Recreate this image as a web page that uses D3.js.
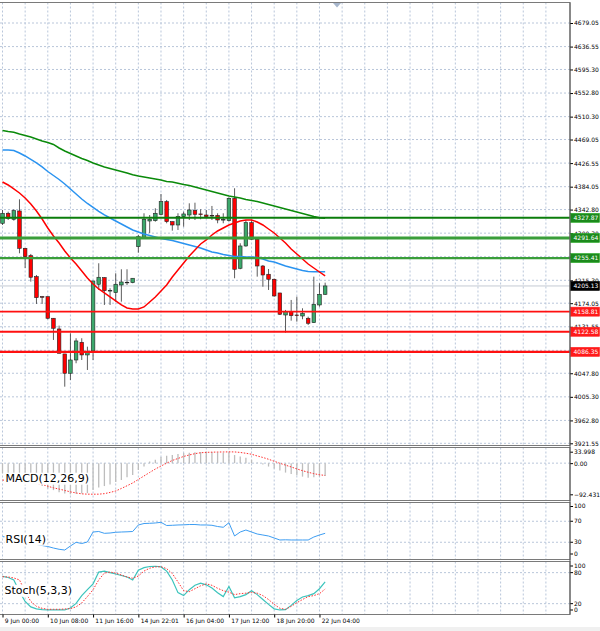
<!DOCTYPE html>
<html>
<head>
<meta charset="utf-8">
<script src="https://cdn.jsdelivr.net/npm/d3@7"></script>
<style>
body { margin: 0; background: #fff; }
.axis text { font-family: "DejaVu Sans", sans-serif; font-size: 6px; fill: #000; }
.axis line { stroke: #000; }
.panel-label { font-family: "DejaVu Sans", sans-serif; font-size: 11px; fill: #000; }
</style>
</head>
<body>
<div class="chart"></div>
<script>
// H4 candles, 9 Jun 00:00 -> 22 Jun 04:00
var candleOpen = [4318.1, 4336.1, 4325.3, 4340.3, 4273.0, 4259.7, 4221.9, 4185.8, 4185.8, 4146.9,
    4127.6, 4082.6, 4047.8, 4071.7, 4103.6, 4080.8, 4088.0, 4208.2, 4220.1, 4196.1,
    4193.0, 4206.9, 4211.1, 4211.1, 4275.9, 4292.9, 4322.2, 4322.8, 4334.3, 4357.0,
    4321.0, 4315.0, 4330.0, 4333.0, 4341.2, 4334.9, 4333.0, 4332.2, 4332.2, 4324.0,
    4322.8, 4363.1, 4237.0, 4277.2, 4319.2, 4289.3, 4241.1, 4226.2, 4217.2, 4192.5,
    4152.8, 4158.8, 4152.8, 4151.0, 4146.9, 4139.0, 4170.9, 4190.1];
var candleHigh = [4342.1, 4339.0, 4343.3, 4361.3, 4273.6, 4262.8, 4224.9, 4187.1, 4185.8, 4147.4,
    4133.6, 4082.6, 4119.9, 4110.9, 4110.9, 4095.7, 4214.1, 4246.0, 4220.8, 4201.0,
    4228.0, 4235.2, 4235.2, 4219.0, 4297.0, 4336.1, 4333.0, 4345.1, 4370.9, 4360.1,
    4321.0, 4336.1, 4339.0, 4354.1, 4355.2, 4343.3, 4342.1, 4349.3, 4336.1, 4336.1,
    4365.0, 4381.2, 4282.1, 4324.0, 4324.0, 4291.1, 4242.9, 4235.7, 4218.3, 4192.5,
    4161.9, 4179.9, 4185.8, 4164.9, 4149.8, 4221.9, 4210.0, 4211.1];
var candleLow = [4315.0, 4324.0, 4322.8, 4264.0, 4237.5, 4212.9, 4172.7, 4172.7, 4145.1, 4107.8,
    4083.8, 4023.6, 4035.7, 4065.8, 4071.7, 4053.7, 4071.7, 4197.9, 4170.9, 4170.9,
    4176.8, 4176.8, 4206.9, 4210.0, 4265.1, 4291.6, 4300.6, 4321.0, 4333.0, 4318.1,
    4304.8, 4306.0, 4312.0, 4324.0, 4324.0, 4325.3, 4327.1, 4324.0, 4318.1, 4318.1,
    4321.0, 4219.0, 4235.2, 4275.9, 4288.0, 4221.9, 4203.8, 4197.9, 4185.8, 4152.8,
    4120.9, 4142.6, 4140.8, 4145.1, 4134.8, 4138.4, 4167.8, 4188.9];
var candleClose = [4336.1, 4327.1, 4340.8, 4273.0, 4257.9, 4220.8, 4184.0, 4184.7, 4146.9, 4128.9,
    4083.8, 4047.8, 4071.7, 4106.0, 4080.8, 4086.7, 4214.1, 4220.8, 4196.6, 4197.0,
    4208.2, 4212.3, 4211.8, 4219.0, 4293.9, 4325.3, 4325.3, 4336.1, 4357.0, 4321.0,
    4315.0, 4330.0, 4334.9, 4342.1, 4334.3, 4334.0, 4330.0, 4331.2, 4324.0, 4324.9,
    4363.1, 4235.2, 4277.2, 4319.2, 4289.3, 4241.1, 4224.9, 4217.2, 4187.1, 4154.1,
    4158.8, 4151.6, 4152.3, 4155.9, 4137.9, 4172.1, 4190.1, 4205.13];

// moving averages
var maFast = [4392.5, 4387.1, 4379.9, 4372.7, 4363.7, 4352.9, 4340.3, 4325.8, 4309.6, 4295.2,
    4282.6, 4268.2, 4255.6, 4244.7, 4232.1, 4219.5, 4208.7, 4199.7, 4192.5, 4185.3,
    4178.1, 4170.9, 4165.5, 4163.6, 4163.6, 4167.3, 4176.3, 4185.3, 4196.1, 4206.9,
    4221.3, 4233.9, 4246.5, 4259.2, 4270.0, 4280.8, 4288.0, 4297.0, 4304.2, 4309.6,
    4315.0, 4318.6, 4322.2, 4324.0, 4324.0, 4320.4, 4315.0, 4307.8, 4300.6, 4291.6,
    4282.6, 4271.8, 4262.8, 4253.8, 4244.7, 4237.5, 4230.3, 4223.1];
var maMid = [4450.2, 4450.2, 4449.3, 4444.8, 4439.4, 4433.1, 4426.8, 4419.6, 4411.4, 4404.2,
    4397.0, 4388.9, 4379.9, 4370.9, 4361.9, 4353.8, 4346.6, 4339.4, 4333.1, 4327.6,
    4322.2, 4316.8, 4311.4, 4306.0, 4302.4, 4298.8, 4296.1, 4293.4, 4290.7, 4288.9,
    4287.1, 4284.4, 4281.7, 4279.0, 4276.3, 4273.6, 4270.0, 4266.4, 4264.6, 4261.9,
    4260.1, 4258.3, 4258.3, 4257.4, 4257.4, 4256.5, 4253.8, 4250.2, 4248.4, 4244.7,
    4241.1, 4238.4, 4235.7, 4233.0, 4231.2, 4230.9, 4230.9, 4230.9];
var maSlow = [4485.3, 4483.5, 4482.1, 4479.0, 4476.3, 4473.6, 4470.0, 4466.4, 4463.7, 4460.1,
    4453.8, 4448.4, 4443.9, 4439.4, 4434.9, 4431.3, 4426.8, 4423.2, 4419.6, 4416.9,
    4414.1, 4411.4, 4408.7, 4405.7, 4403.3, 4401.5, 4399.7, 4397.9, 4396.1, 4393.4,
    4392.5, 4390.2, 4388.0, 4386.2, 4383.5, 4380.8, 4378.1, 4375.4, 4372.7, 4370.0,
    4367.3, 4365.5, 4363.7, 4361.0, 4359.2, 4357.4, 4354.7, 4352.0, 4349.3, 4346.6,
    4343.9, 4341.2, 4338.5, 4335.8, 4333.1, 4330.4, 4328.2, 4327.1];

// indicators
var macdMain = [-30, -32, -34, -40, -48, -55, -62, -68, -75, -80,
    -86, -90, -92.431, -91, -90, -89, -80, -72, -68, -63,
    -56, -50, -42, -35, -20, -10, 5, 10, 18, 22,
    24, 27, 30, 31, 32, 33, 33.998, 33, 32, 31,
    32, 24, 20, 16, 10, 2, -4, -10, -16, -22,
    -28, -32, -36, -40, -43, -42, -40, -38];
var macdSignal = [-49.9, -52.2, -54.3, -56.4, -57.9, -59.3, -60.5, -63.2, -68.5, -73.3,
    -76.9, -81.0, -85.2, -88.4, -91.1, -92.0, -92.2, -92.0, -90.5, -86.9,
    -82.5, -75.1, -67.1, -58.8, -48.4, -38.0, -27.6, -17.5, -8.6, 0,
    8.0, 13.9, 19.9, 24.3, 28.2, 30.9, 32.0, 32.6, 33.0, 33.2,
    33.5, 33.3, 31.8, 29.4, 26.4, 21.4, 16.9, 11.6, 5.6, -0.3,
    -5.9, -11.3, -17.2, -22.3, -27.0, -31.2, -34.4, -36.5];
var rsiValues = [40.6, 40, 39, 36.2, 31.4, 28.2, 25.7, 23.8, 21.9, 19,
    16.6, 15.2, 22.9, 29.9, 27.6, 30.5, 49.5, 50.5, 47, 47.6,
    49, 49.5, 49.9, 50.5, 62.9, 65.7, 66.1, 66.7, 68, 61.9,
    62.3, 62.9, 63.2, 63.8, 63.8, 62.9, 62.9, 62.3, 60, 58.5,
    67.2, 41.9, 49.5, 53.3, 49.5, 45.7, 43.8, 41.9, 38.1, 34.3,
    34.7, 34.3, 34.3, 34.3, 34.3, 40, 43.8, 47];
var stochMain = [72.9, 70.6, 65.9, 43.2, 24.2, 13.8, 10, 8.5, 7.8, 7.8,
    7.8, 7.8, 11.6, 20.5, 35.6, 47, 58.3, 81.1, 83, 80.1,
    77.3, 74.4, 71.6, 65.9, 84.8, 89.6, 91.9, 92.4, 91.1, 83,
    65.9, 41.3, 35.6, 47, 55.5, 59.7, 56.4, 50.2, 41.3, 33.7,
    53.2, 31.3, 33.7, 37.5, 45.1, 37.5, 28, 18.6, 10, 7.8,
    8.5, 16.7, 26.1, 32.8, 35.6, 39.4, 48.9, 62.1];
var stochSignal = [72.2, 71.6, 69.7, 65.9, 43.2, 24.2, 14.8, 11, 9.1, 9.1,
    9.1, 9.7, 10.4, 13.8, 21.4, 33.7, 47, 65.9, 79.2, 81.1,
    79.2, 75.4, 71.6, 69.1, 73.5, 83, 88.6, 91.1, 91.5, 87.7,
    78.2, 62.1, 45.1, 43.2, 48.9, 54.5, 58.3, 55.5, 49.8, 45.1,
    42.2, 37.5, 39.4, 40.3, 41.9, 40.3, 35.6, 28, 18.6, 11,
    9.1, 14.8, 21.8, 28, 33.7, 35.6, 39.4, 48.3];

var priceTicks = [4679.05, 4636.55, 4595.30, 4552.80, 4510.30, 4469.05, 4426.55, 4384.05, 4342.80, 4300.30,
    4257.80, 4215.30, 4174.05, 4131.55, 4089.05, 4047.80, 4005.30, 3962.80, 3921.55];
var dateLabels = ["9 Jun 00:00", "10 Jun 08:00", "11 Jun 16:00", "14 Jun 22:01",
    "16 Jun 04:00", "17 Jun 12:00", "18 Jun 20:00", "22 Jun 04:00"];
var resistanceLevels = [4327.87, 4291.64, 4255.41];
var supportLevels = [4158.81, 4122.58, 4086.35];
var rsiLevels = [100, 70, 30, 0];
var stochLevels = [100, 80, 20, 0];

// layout
var plotRight = 570;
var panels = {
    main: {top: 2.5, bottom: 445.5},
    macd: {top: 447.5, bottom: 500.5},
    rsi: {top: 502.5, bottom: 559.5},
    stoch: {top: 561.5, bottom: 614.5}
};
var gridColor = "#b9c6da";

var svg = d3.select(".chart").append("svg").attr("width", 600).attr("height", 631);

var xScale = d3.scaleLinear().domain([0, 96]).range([2.5, 545.9]);
var yMain = d3.scaleLinear().domain([3921.55, 4679.05]).range([443.3, 23]);
var macdMax = d3.max(macdMain.concat(macdSignal));
var macdMin = d3.min(macdMain.concat(macdSignal));
var yMacd = d3.scaleLinear().domain([macdMin, macdMax]).range([494.3, 451.7]);
var yRsi = d3.scaleLinear().domain([0, 100]).range([558, 505.5]);
var yStoch = d3.scaleLinear().domain([0, 100]).range([614, 562.3]);

svg.append("rect").attr("x", 0).attr("y", 627).attr("width", 600).attr("height", 4).attr("fill", "#f0f0f0");

// vertical grid in every panel
var gridBars = d3.range(0, 97, 4);
Object.keys(panels).forEach(function(k) {
    var p = panels[k];
    svg.append("g").selectAll("line").data(gridBars).enter().append("line")
        .attr("x1", function(d) { return xScale(d); })
        .attr("x2", function(d) { return xScale(d); })
        .attr("y1", p.top).attr("y2", p.bottom)
        .attr("stroke", gridColor).attr("stroke-dasharray", "2,2");
});

// horizontal grid, main
svg.append("g").selectAll("line").data(priceTicks).enter().append("line")
    .attr("x1", 0).attr("x2", plotRight)
    .attr("y1", function(d) { return yMain(d); })
    .attr("y2", function(d) { return yMain(d); })
    .attr("stroke", gridColor).attr("stroke-dasharray", "2,2");

// level lines in sub panels
function dottedLevels(values, scale) {
    svg.append("g").selectAll("line").data(values).enter().append("line")
        .attr("x1", 0).attr("x2", plotRight)
        .attr("y1", function(d) { return scale(d); })
        .attr("y2", function(d) { return scale(d); })
        .attr("stroke", gridColor).attr("stroke-dasharray", "2,2");
}
dottedLevels([0], yMacd);
dottedLevels([70, 30], yRsi);
dottedLevels([80, 20], yStoch);

var lastClose = candleClose[candleClose.length - 1];
svg.append("line").attr("x1", 0).attr("x2", plotRight)
    .attr("y1", yMain(lastClose)).attr("y2", yMain(lastClose))
    .attr("stroke", "#c4cad4").attr("stroke-width", 1);

// candles
var candles = candleOpen.map(function(o, i) {
    return {i: i, o: o, h: candleHigh[i], l: candleLow[i], c: candleClose[i]};
});
var candleG = svg.append("g");
candleG.selectAll("line").data(candles).enter().append("line")
    .attr("x1", function(d) { return xScale(d.i); })
    .attr("x2", function(d) { return xScale(d.i); })
    .attr("y1", function(d) { return yMain(d.h); })
    .attr("y2", function(d) { return yMain(d.l); })
    .attr("stroke", "#333").attr("stroke-width", 0.8);
candleG.selectAll("rect").data(candles).enter().append("rect")
    .attr("x", function(d) { return xScale(d.i) - 1.8; })
    .attr("width", 3.6)
    .attr("y", function(d) { return yMain(Math.max(d.o, d.c)); })
    .attr("height", function(d) { return Math.max(0.6, Math.abs(yMain(d.o) - yMain(d.c))); })
    .attr("fill", function(d) { return d.c >= d.o ? "#3ca86c" : "#ff0000"; })
    .attr("stroke", "#222").attr("stroke-width", 0.6);

// moving averages
function drawLine(values, scale, color, width, dash) {
    var line = d3.line()
        .x(function(d, i) { return xScale(i); })
        .y(function(d) { return scale(d); })
        .curve(d3.curveLinear);
    svg.append("path").datum(values)
        .attr("d", line)
        .attr("fill", "none")
        .attr("stroke", color)
        .attr("stroke-width", width)
        .attr("stroke-dasharray", dash || null);
}
drawLine(maSlow, yMain, "#0a8a0a", 1.5);
drawLine(maMid, yMain, "#2a93f0", 1.5);
drawLine(maFast, yMain, "#ff0000", 1.5);

// horizontal levels
var levelStyles = [2, 3, 2.2];
svg.append("g").selectAll("line").data(resistanceLevels).enter().append("line")
    .attr("x1", 0).attr("x2", plotRight)
    .attr("y1", function(d) { return yMain(d); })
    .attr("y2", function(d) { return yMain(d); })
    .attr("stroke", function(d, i) { return i === 0 ? "#0b7d0b" : "#3a9e3a"; })
    .attr("stroke-width", function(d, i) { return levelStyles[i]; });
svg.append("g").selectAll("line").data(supportLevels).enter().append("line")
    .attr("x1", 0).attr("x2", plotRight)
    .attr("y1", function(d) { return yMain(d); })
    .attr("y2", function(d) { return yMain(d); })
    .attr("stroke", "#ff1010")
    .attr("stroke-width", function(d, i) { return i === 0 ? 1.6 : 2.2; });

// MACD histogram + signal
svg.append("g").selectAll("line").data(macdMain).enter().append("line")
    .attr("x1", function(d, i) { return xScale(i); })
    .attr("x2", function(d, i) { return xScale(i); })
    .attr("y1", yMacd(0))
    .attr("y2", function(d) { return yMacd(d); })
    .attr("stroke", "#bdbdbd").attr("stroke-width", 1.3);
drawLine(macdSignal, yMacd, "#ff3030", 1, "1.5,1.5");

// RSI
drawLine(rsiValues, yRsi, "#3d9df2", 1);

// Stochastic
drawLine(stochMain, yStoch, "#3cc4bc", 1.2);
drawLine(stochSignal, yStoch, "#ff3030", 1, "1.5,1.5");

// panel labels with white backing
function panelLabel(text, x, y) {
    var t = svg.append("text").attr("class", "panel-label").attr("x", x).attr("y", y).text(text);
    var b = t.node().getBBox();
    svg.insert("rect", function() { return t.node(); })
        .attr("x", b.x - 1).attr("y", b.y + 1).attr("width", b.width + 2).attr("height", b.height - 1)
        .attr("fill", "#fff");
}
panelLabel("MACD(12,26,9)", 5.5, 481.7);
panelLabel("RSI(14)", 5.5, 542.7);
panelLabel("Stoch(5,3,3)", 4.5, 593.8);

// panel borders
Object.keys(panels).forEach(function(k) {
    var p = panels[k];
    svg.append("rect").attr("x", -1).attr("y", p.top).attr("width", plotRight + 1).attr("height", p.bottom - p.top)
        .attr("fill", "none").attr("stroke", "#7a7a7a").attr("stroke-width", 1);
});

// chart shift marker
var shiftX = xScale(59.1);
svg.append("path")
    .attr("d", "M" + (shiftX - 4) + "," + 3 + "L" + (shiftX + 4) + "," + 3 + "L" + shiftX + "," + 7.5 + "Z")
    .attr("fill", "#a7b6cc");

// right axes
function rightAxis(scale, values, fmt, clampTop, clampBottom) {
    var g = svg.append("g").attr("class", "axis").attr("transform", "translate(" + plotRight + ",0)")
        .call(d3.axisRight(scale).tickValues(values).tickSize(3).tickPadding(1).tickFormat(fmt));
    g.select(".domain").remove();
    if (clampTop !== undefined) {
        g.selectAll(".tick").attr("transform", function(d) {
            var y = Math.max(clampTop, Math.min(clampBottom, scale(d)));
            return "translate(0," + y + ")";
        });
    }
    return g;
}
rightAxis(yMain, priceTicks, d3.format(".2f"));
rightAxis(yMacd, [macdMax, 0, macdMin], function(d) { return d === 0 ? "0.00" : d3.format(".3f")(d); });
rightAxis(yRsi, rsiLevels, d3.format("d"), panels.rsi.top + 4, panels.rsi.bottom - 5.5);
rightAxis(yStoch, stochLevels, d3.format("d"), panels.stoch.top + 4.5, panels.stoch.bottom - 4.5);

// level tags on the price scale
function levelTag(value, fill) {
    var y = yMain(value);
    svg.append("rect").attr("x", plotRight + 0.5).attr("y", y - 4.5).attr("width", 29).attr("height", 9)
        .attr("fill", fill).attr("stroke", d3.color(fill).brighter(0.6)).attr("stroke-width", 0.6);
    svg.append("text").attr("x", plotRight + 3.5).attr("y", y).attr("dy", "0.35em")
        .attr("font-family", "DejaVu Sans, sans-serif").attr("font-size", "6px").attr("fill", "#fff")
        .text(d3.format(".2f")(value));
}
resistanceLevels.forEach(function(v) { levelTag(v, "#1c8a1c"); });
supportLevels.forEach(function(v) { levelTag(v, "#ff1a1a"); });
levelTag(lastClose, "#000000");

// price scale line
svg.append("line").attr("x1", plotRight).attr("x2", plotRight)
    .attr("y1", panels.main.top).attr("y2", panels.stoch.bottom)
    .attr("stroke", "#555").attr("stroke-width", 1);

// time axis
var timeAxis = svg.append("g").attr("class", "axis")
    .attr("transform", "translate(0," + panels.stoch.bottom + ")")
    .call(d3.axisBottom(xScale)
        .tickValues(d3.range(0, dateLabels.length * 8, 8))
        .tickSize(3).tickPadding(1)
        .tickFormat(function(d, i) { return dateLabels[i]; }));
timeAxis.select(".domain").remove();
timeAxis.selectAll("text").attr("text-anchor", "start").attr("dx", "0.3em");
</script>
</body>
</html>
